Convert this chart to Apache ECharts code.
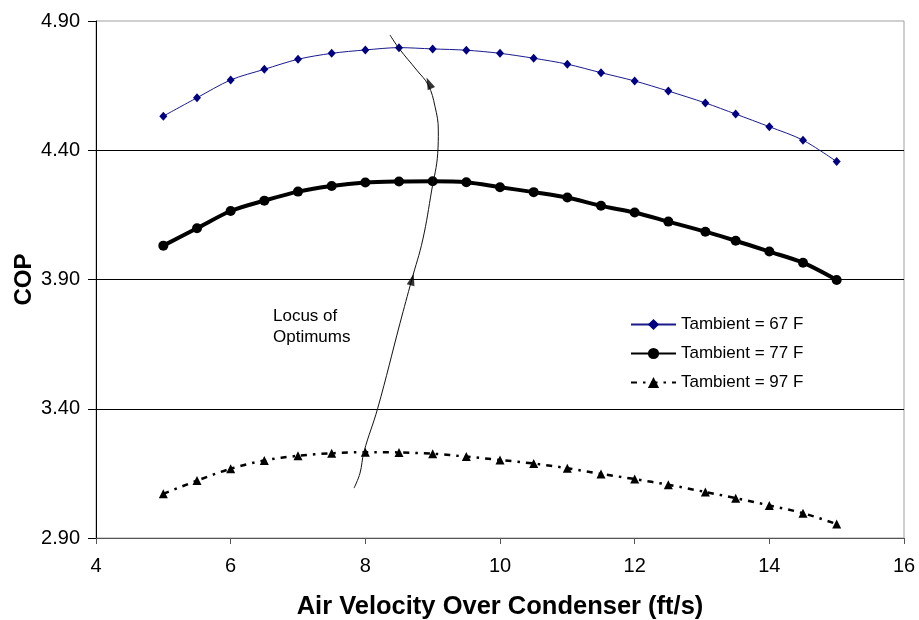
<!DOCTYPE html>
<html>
<head>
<meta charset="utf-8">
<script src="https://cdn.jsdelivr.net/npm/echarts@6/dist/echarts.min.js"></script>
<style>
html,body{margin:0;padding:0;background:#fff;}
#chart{width:919px;height:620px;}
</style>
</head>
<body>
<div id="chart"></div>
<script>
// Air velocity (ft/s)
var velocity = [5, 5.5, 6, 6.5, 7, 7.5, 8, 8.5, 9, 9.5, 10, 10.5, 11, 11.5, 12, 12.5, 13.05, 13.5, 14, 14.5, 15];
// COP for each ambient temperature
var cop67 = [4.532, 4.603, 4.672, 4.713, 4.752, 4.775, 4.788, 4.797, 4.792, 4.787, 4.775, 4.756, 4.733, 4.700, 4.668, 4.629, 4.583, 4.540, 4.491, 4.439, 4.356];
var cop77 = [4.031, 4.098, 4.165, 4.205, 4.240, 4.262, 4.275, 4.279, 4.280, 4.276, 4.257, 4.238, 4.217, 4.185, 4.159, 4.124, 4.085, 4.050, 4.008, 3.965, 3.898];
var cop97 = [3.071, 3.122, 3.168, 3.200, 3.218, 3.228, 3.232, 3.231, 3.226, 3.215, 3.202, 3.188, 3.170, 3.148, 3.128, 3.106, 3.078, 3.054, 3.026, 2.996, 2.954];
var seriesNames = ['Tambient = 67 F', 'Tambient = 77 F', 'Tambient = 97 F'];

// Locus of optimums (annotation curve)
var locusX = [7.832, 7.921, 7.980, 8.184, 8.515, 8.689, 8.852, 8.986, 9.075, 9.084, 9.035, 8.935, 8.763, 8.500, 8.366];
var locusY = [3.093, 3.151, 3.234, 3.402, 3.731, 3.899, 4.053, 4.246, 4.388, 4.478, 4.569, 4.652, 4.710, 4.794, 4.846];
var arrowX = [8.695, 8.945];
var arrowY = [3.900, 4.660];
var arrowRot = [-15, 24];

var xTicks = {min: 4, max: 16, interval: 2};
var yTicks = {min: 2.9, max: 4.9, interval: 0.5};

function pairs(xs, ys) { return xs.map(function (x, i) { return [x, ys[i]]; }); }

var chart = echarts.init(document.getElementById('chart'), null, {renderer: 'canvas'});
var font = 'Liberation Sans, Arial, sans-serif';

chart.setOption({
  animation: false,
  backgroundColor: '#fff',
  grid: {left: 96, right: 15, top: 21, bottom: 82, outerBoundsMode: 'none', containLabel: false,
    show: true, borderColor: '#a0a0a0', borderWidth: 1, backgroundColor: 'transparent'},
  legend: {
    orient: 'vertical', left: 625, top: 311, itemWidth: 45, itemHeight: 14, itemGap: 12,
    data: seriesNames,
    textStyle: {fontFamily: font, fontSize: 17, color: '#000'}
  },
  xAxis: {
    type: 'value', min: xTicks.min, max: xTicks.max, interval: xTicks.interval,
    name: 'Air Velocity Over Condenser (ft/s)', nameLocation: 'middle', nameGap: 56, nameMoveOverlap: false,
    nameTextStyle: {fontFamily: font, fontSize: 25.5, fontWeight: 'bold', color: '#000'},
    axisLine: {lineStyle: {color: '#555', width: 1}},
    axisTick: {inside: false, length: 6, lineStyle: {color: '#555'}},
    axisLabel: {fontFamily: font, fontSize: 20, color: '#000', margin: 18},
    splitLine: {show: false}
  },
  yAxis: {
    type: 'value', min: yTicks.min, max: yTicks.max, interval: yTicks.interval,
    name: 'COP', nameLocation: 'middle', nameGap: 60, nameMoveOverlap: false,
    nameTextStyle: {fontFamily: font, fontSize: 24, fontWeight: 'bold', color: '#000'},
    axisLine: {show: true, lineStyle: {color: '#000', width: 1}},
    axisTick: {show: true, inside: false, length: 8, lineStyle: {color: '#000'}},
    axisLabel: {fontFamily: font, fontSize: 20, color: '#000', margin: 16,
      formatter: function (v) { return v.toFixed(2); }},
    splitLine: {show: true, showMinLine: false, showMaxLine: false, lineStyle: {color: '#000', width: 1}}
  },
  graphic: [{
    type: 'text', left: 273, top: 306,
    style: {text: 'Locus of\nOptimums', fontFamily: font, fontSize: 17, lineHeight: 21, fill: '#000'}
  }],
  series: [
    {
      name: seriesNames[0], type: 'line', data: pairs(velocity, cop67), smooth: 0.3,
      symbol: 'diamond', symbolSize: [8, 9], showAllSymbol: true,
      lineStyle: {color: '#1a1a8c', width: 1},
      itemStyle: {color: '#000080'}
    },
    {
      name: seriesNames[1], type: 'line', data: pairs(velocity, cop77), smooth: 0.3,
      symbol: 'circle', symbolSize: 10, showAllSymbol: true,
      lineStyle: {color: '#000', width: 4},
      itemStyle: {color: '#000'}
    },
    {
      name: seriesNames[2], type: 'line', data: pairs(velocity, cop97), smooth: 0.3,
      symbol: 'triangle', symbolSize: 9, showAllSymbol: true,
      lineStyle: {color: '#000', width: 2.5, type: [6, 6, 2.5, 6]},
      itemStyle: {color: '#000'}
    },
    {
      name: 'locus', type: 'line', data: pairs(locusX, locusY), smooth: 0.4,
      symbol: 'none', lineStyle: {color: '#111', width: 1}, z: 5, silent: true
    },
    {
      name: 'arrows', type: 'scatter', z: 6, silent: true,
      data: arrowX.map(function (x, i) { return {value: [x, arrowY[i]], symbolRotate: arrowRot[i]}; }),
      symbol: 'triangle', symbolSize: [8, 12], itemStyle: {color: '#000'}
    }
  ]
});
</script>
</body>
</html>
